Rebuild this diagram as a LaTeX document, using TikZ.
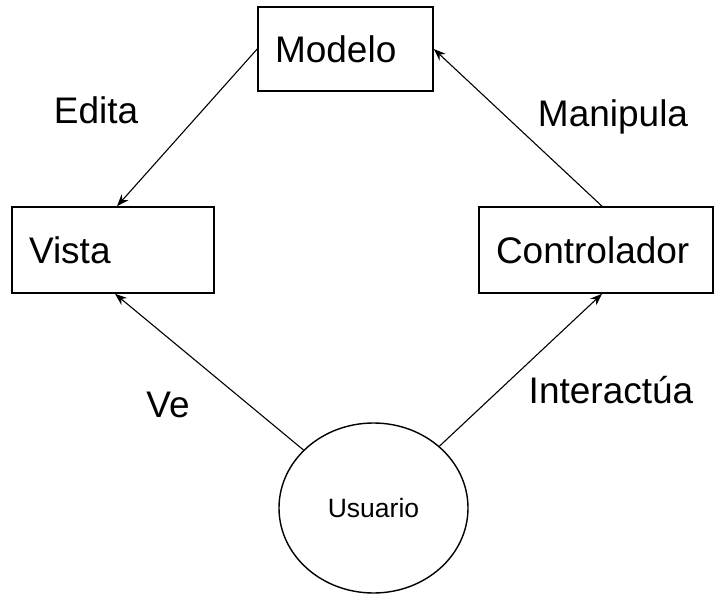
\documentclass[tikz,border=0pt]{standalone}
\usepackage{fontspec}
\setmainfont{Liberation Sans}
\usepackage{tikz}
\usetikzlibrary{shapes.geometric,arrows.meta}

\begin{document}
\begin{tikzpicture}[x=1pt, y=-1pt,
  caja/.style={rectangle, draw=black, line width=1.6pt, inner xsep=17pt, inner ysep=0pt,
    align=left, font=\fontsize{37}{40}\selectfont},
  usuario/.style={ellipse, draw=black, line width=1.4pt, minimum width=189pt, minimum height=170pt,
    inner sep=0pt, font=\fontsize{26.5}{30}\selectfont},
  etiqueta/.style={anchor=base, inner sep=0pt, font=\fontsize{37}{40}\selectfont},
  flecha/.style={-{Stealth[length=12pt, width=9pt]}, black, line width=1.1pt}]
\useasboundingbox (0,0) rectangle (715,594);
% cajas del patron
\node[caja, text width=141pt, minimum height=84pt] (modelo) at (345.5,49) {Modelo};
\node[caja, text width=168pt, minimum height=86pt] (vista) at (113,250) {Vista};
\node[caja, text width=200pt, minimum height=86pt] (ctrl) at (596,250) {Controlador};
\node[usuario] (user) at (373.5,508) {Usuario};
% etiquetas
\node[etiqueta] (edita) at (96,123) {Edita};
\node[etiqueta] (manipula) at (613,126) {Manipula};
\node[etiqueta] (ve) at (168,417) {Ve};
\node[etiqueta] (interactua) at (611,403) {Interactúa};
% flechas
\draw[flecha] (modelo.west) -- ([xshift=4pt]vista.north);
\draw[flecha] ([xshift=6pt]ctrl.north) -- (modelo.east);
\draw[flecha] (user) -- ([xshift=2pt]vista.south);
\draw[flecha] (user) -- ([xshift=6pt]ctrl.south);
\end{tikzpicture}
\end{document}
